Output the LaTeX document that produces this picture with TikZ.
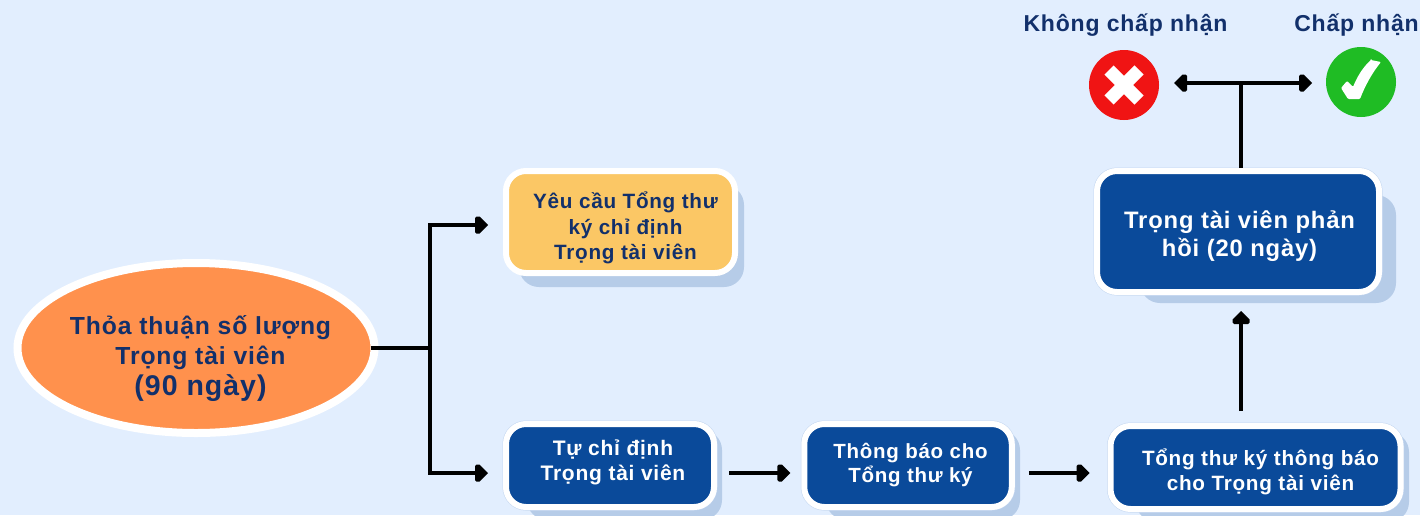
\documentclass[tikz,border=0pt]{standalone}
\usepackage{fontspec}
\setmainfont{Liberation Sans}[LetterSpace=3.5]
\usetikzlibrary{arrows.meta,shapes.geometric}
\definecolor{bgc}{HTML}{E2EEFE}
\definecolor{navy}{HTML}{12306B}
\definecolor{bluefill}{HTML}{0A4A9A}
\definecolor{yel}{HTML}{FBC765}
\definecolor{org}{HTML}{FF914D}
\definecolor{shad}{HTML}{B6CCE8}
\definecolor{edgec}{HTML}{C3D6F0}
\definecolor{okc}{HTML}{1FBC24}
\definecolor{noc}{HTML}{F01414}
\pgfdeclarearrow{
  name=Penta,
  setup code={\pgfarrowssettipend{0pt}\pgfarrowssetbackend{-13pt}\pgfarrowssetlineend{-9pt}\pgfarrowssetvisualbackend{-13pt}},
  drawing code={
    \pgfpathmoveto{\pgfpoint{0pt}{0pt}}
    \pgfpathlineto{\pgfpoint{-8.5pt}{8.5pt}}
    \pgfpathlineto{\pgfpoint{-11.5pt}{8.5pt}}
    \pgfpathlineto{\pgfpoint{-13pt}{7pt}}
    \pgfpathlineto{\pgfpoint{-13pt}{-7pt}}
    \pgfpathlineto{\pgfpoint{-11.5pt}{-8.5pt}}
    \pgfpathlineto{\pgfpoint{-8.5pt}{-8.5pt}}
    \pgfpathclose
    \pgfusepathqfill
  },
}
\tikzset{
  x=1pt,y=-1pt,
  shadowbox/.style={rectangle,rounded corners=20pt,fill=shad,inner sep=0pt,outer sep=0pt},
  cardbox/.style={rectangle,rounded corners=20pt,draw=white,line width=6pt,inner sep=0pt,outer sep=0pt},
  bluecard/.style={cardbox,fill=bluefill,preaction={draw=edgec,line width=7pt}},
  txt/.style 2 args={align=center,font=\bfseries\fontsize{#1}{#2}\selectfont,inner sep=0pt},
  conn/.style={line width=4pt,black,line cap=butt},
  arr/.style={conn,-{Penta}},
}
\begin{document}
\begin{tikzpicture}
\useasboundingbox (0,0) rectangle (1420,515);
\fill[bgc] (0,0) rectangle (1420,515);
\begin{scope}
\clip (0,0) rectangle (1420,515);
% shadows
\node[shadowbox,minimum width=225pt,minimum height=102pt] (s1) at (631.5,236) {};
\node[shadowbox,minimum width=195pt,minimum height=90pt] (s2) at (624.5,475) {};
\node[shadowbox,minimum width=194pt,minimum height=90pt] (s3) at (923,475) {};
\node[shadowbox,minimum width=273pt,minimum height=90pt] (s4) at (1272.5,477) {};
\node[shadowbox,minimum width=256pt,minimum height=108pt] (s5) at (1268,249) {};
\end{scope}
% shapes
\node[ellipse,draw=white,line width=8pt,fill=org,inner sep=0pt,outer sep=0pt,minimum width=357pt,minimum height=170pt] (ell) at (196,348) {};
\node[cardbox,fill=yel,minimum width=229pt,minimum height=102pt] (yb) at (620.5,222) {};
\node[bluecard,minimum width=208pt,minimum height=83pt] (tu) at (610,465.5) {};
\node[bluecard,minimum width=207.5pt,minimum height=83pt] (tb) at (908,465.5) {};
\node[bluecard,minimum width=290pt,minimum height=83pt] (tk) at (1255.5,467.5) {};
\node[bluecard,minimum width=282pt,minimum height=121pt] (ph) at (1238,231.5) {};
\node[circle,fill=noc,minimum size=70pt,inner sep=0pt,outer sep=0pt] (no) at (1124,85) {};
\node[circle,fill=okc,minimum size=70pt,inner sep=0pt,outer sep=0pt] (ok) at (1361,82) {};
% icons
\draw[white,line width=13pt] ([shift={(-15,-15)}]no.center) -- ([shift={(15,15)}]no.center);
\draw[white,line width=13pt] ([shift={(-15,15)}]no.center) -- ([shift={(15,-15)}]no.center);
\fill[white,rounded corners=1pt] (1371,60) -- (1381,62) .. controls (1372,73) and (1365,86) .. (1360,99) -- (1348,99) -- (1341,88) -- (1347,81) -- (1353,87) .. controls (1357,77) and (1363,67) .. (1371,60) -- cycle;
% texts
\node[txt={24.7}{30},text=navy] (t1) at (200.5,343) {Thỏa thuận số lượng\\Trọng tài viên};
\node[txt={28.5}{30},text=navy] (t1b) at (200.5,388) {(90 ngày)};
\node[txt={20.7}{25.5},text=navy] (t2) at (625.5,228) {Yêu cầu Tổng thư\\ký chỉ định\\Trọng tài viên};
\node[txt={21}{25.5},text=white] (t3) at (613,462.5) {Tự chỉ định\\Trọng tài viên};
\node[txt={20.5}{24.5},text=white] (t4) at (910.5,465) {Thông báo cho\\Tổng thư ký};
\node[txt={20.7}{25.5},text=white] (t5) at (1260.5,472) {Tổng thư ký thông báo\\cho Trọng tài viên};
\node[txt={23.8}{28},text=white] (t6) at (1239.5,236) {Trọng tài viên phản\\hồi (20 ngày)};
\node[txt={23}{26},text=navy] (t7) at (1125.5,25) {Không chấp nhận};
\node[txt={23}{26},text=navy] (t8) at (1356.5,25) {Chấp nhận};
% connectors
\coordinate (jn) at (430,348);
\coordinate (tee) at (1241,83);
\coordinate (va) at (tk.north -| ph.north);
\draw[conn] ([xshift=-4pt]ell.east) -- (jn);
\draw[arr] (jn) |- ([shift={(-18,3)}]yb.west);
\draw[arr] (jn) |- ([shift={(-18,7.5)}]tu.west);
\draw[arr] ([shift={(15,7.5)}]tu.east) -- ([shift={(-14,7.5)}]tb.west);
\draw[arr] ([shift={(17,7.5)}]tb.east) -- ([shift={(-21,5.5)}]tk.west);
\draw[arr] ([shift={(3,-15)}]va) -- ([shift={(3,19)}]ph.south);
\draw[conn] ([shift={(3,-3)}]ph.north) -- (tee);
\draw[arr] (tee) -- ([shift={(-14,1)}]ok.west);
\draw[arr] (tee) -- ([shift={(15,-2)}]no.east);
\end{tikzpicture}
\end{document}
